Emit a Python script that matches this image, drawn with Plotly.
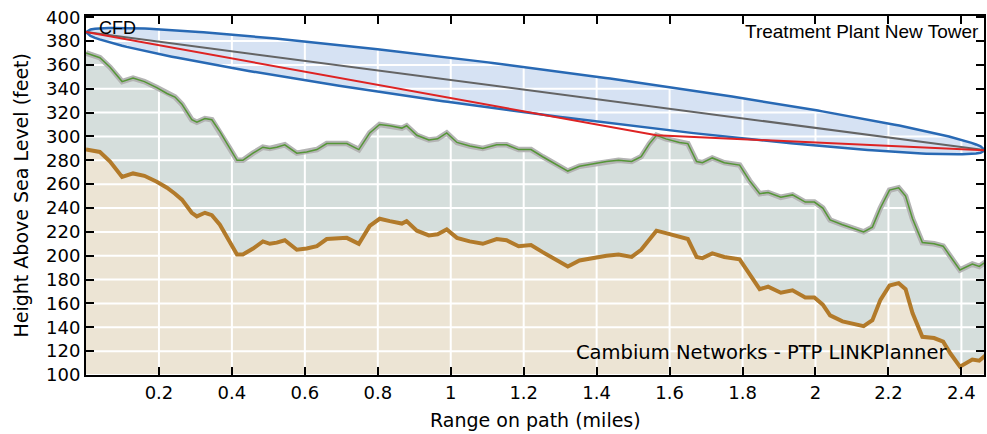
import numpy as np
import plotly.graph_objects as go

# ---- data ----
range_miles = [0.000, 0.038, 0.066, 0.099, 0.129, 0.160, 0.194, 0.222, 0.244, 0.263,
               0.290, 0.304, 0.326, 0.345, 0.367, 0.392, 0.414, 0.430, 0.458, 0.485,
               0.504, 0.523, 0.545, 0.578, 0.605, 0.633, 0.660, 0.715, 0.748, 0.778,
               0.805, 0.833, 0.866, 0.879, 0.907, 0.940, 0.964, 0.989, 1.017, 1.052,
               1.088, 1.126, 1.153, 1.186, 1.220, 1.252, 1.285, 1.321, 1.353, 1.389,
               1.427, 1.460, 1.496, 1.522, 1.545, 1.564, 1.590, 1.627, 1.650, 1.674,
               1.690, 1.717, 1.750, 1.792, 1.819, 1.847, 1.870, 1.905, 1.937, 1.972,
               1.997, 2.020, 2.040, 2.074, 2.132, 2.156, 2.178, 2.203, 2.228, 2.247,
               2.266, 2.293, 2.325, 2.350, 2.370, 2.396, 2.430, 2.449, 2.468]

terrain_ft = [289, 287, 279, 266, 269, 267, 262, 257, 252, 247,
              236, 233, 236, 234, 226, 213, 201, 201, 206, 212,
              210, 211, 213, 205, 206, 208, 214, 215, 210, 225,
              231, 229, 227, 229, 221, 217, 218, 222, 215, 212,
              210, 214, 213, 208, 209, 203, 197, 191, 196, 198,
              200, 201, 199, 205, 214, 221, 219, 216, 214, 199,
              198, 202, 199, 197, 184, 172, 174, 169, 171, 165,
              165, 159, 150, 145, 141, 146, 163, 175, 177, 172,
              152, 132, 131, 128, 118, 107, 113, 112, 117]

clutter_ft = [370, 366, 358, 346, 349, 346, 341, 336, 333, 327,
              314, 312, 315, 314, 304, 291, 280, 280, 286, 291,
              290, 291, 293, 286, 287, 289, 294, 294, 289, 303,
              310, 309, 307, 309, 301, 297, 298, 303, 295, 292,
              290, 293, 293, 289, 289, 283, 277, 271, 275, 277,
              279, 280, 279, 283, 294, 301, 298, 295, 294, 279,
              278, 282, 278, 276, 263, 252, 253, 249, 251, 245,
              245, 240, 230, 226, 220, 224, 240, 255, 257, 250,
              231, 211, 210, 208, 199, 188, 193, 191, 195]

# link end points / obstruction (miles, feet)
site_x = [0.0, 2.465]
site_y = [387.5, 288.5]
ray_x = [0.0, 1.564, 2.465]
ray_y = [387.5, 301.0, 288.5]
fresnel_max_ft = 19.0

x_ticks = [0.2, 0.4, 0.6, 0.8, 1.0, 1.2, 1.4, 1.6, 1.8, 2.0, 2.2, 2.4]
x_tick_text = ["0.2", "0.4", "0.6", "0.8", "1", "1.2", "1.4", "1.6", "1.8", "2", "2.2", "2.4"]
y_ticks = list(range(100, 401, 20))

X_RANGE = [0, 2.462]
Y_RANGE = [100, 401]

# ---- Fresnel ellipse geometry from end points ----
t = np.linspace(0, 1, 200)
ex = site_x[0] + t * (site_x[1] - site_x[0])
ey = site_y[0] + t * (site_y[1] - site_y[0])
half = 2 * fresnel_max_ft * np.sqrt(t * (1 - t))
ell_x = np.concatenate([ex, ex[::-1]])
ell_y = np.concatenate([ey + half, (ey - half)[::-1]])

fig = go.Figure()

# fills
fig.add_trace(go.Scatter(x=range_miles, y=terrain_ft, mode="lines", line=dict(width=0),
                         fill="tozeroy", fillcolor="rgb(236,228,212)", hoverinfo="skip"))
fig.add_trace(go.Scatter(x=range_miles, y=clutter_ft, mode="lines", line=dict(width=0),
                         fill="tonexty", fillcolor="rgb(213,222,220)", hoverinfo="skip"))
fig.add_trace(go.Scatter(x=ell_x, y=ell_y, mode="lines", line=dict(width=0),
                         fill="toself", fillcolor="rgb(214,226,243)", hoverinfo="skip"))

# grid lines (drawn over fills)
gx, gy = [], []
for v in x_ticks:
    gx += [v, v, None]
    gy += [Y_RANGE[0], Y_RANGE[1], None]
for v in y_ticks:
    gx += [X_RANGE[0], X_RANGE[1], None]
    gy += [v, v, None]
fig.add_trace(go.Scatter(x=gx, y=gy, mode="lines", line=dict(color="white", width=2),
                         hoverinfo="skip"))

# terrain lines
fig.add_trace(go.Scatter(x=range_miles, y=clutter_ft, mode="lines",
                         line=dict(color="rgb(180,180,180)", width=5.5), hoverinfo="skip"))
fig.add_trace(go.Scatter(x=range_miles, y=clutter_ft, mode="lines",
                         line=dict(color="rgb(85,150,55)", width=1.5), hoverinfo="skip"))
fig.add_trace(go.Scatter(x=range_miles, y=terrain_ft, mode="lines",
                         line=dict(color="rgb(178,122,42)", width=4), hoverinfo="skip"))

# fresnel outline, line of sight, ray
fig.add_trace(go.Scatter(x=ell_x, y=ell_y, mode="lines",
                         line=dict(color="rgb(40,105,180)", width=2.5), hoverinfo="skip"))
fig.add_trace(go.Scatter(x=site_x, y=site_y, mode="lines",
                         line=dict(color="rgb(100,100,100)", width=2), hoverinfo="skip"))
fig.add_trace(go.Scatter(x=ray_x, y=ray_y, mode="lines",
                         line=dict(color="rgb(222,35,35)", width=2), hoverinfo="skip"))

tickfont = dict(family="DejaVu Sans", size=18, color="black")
fig.update_xaxes(range=X_RANGE, tickvals=x_ticks, ticktext=x_tick_text, showgrid=False,
                 zeroline=False, showline=True, linecolor="black", linewidth=2, mirror="ticks",
                 ticks="inside", ticklen=8, tickwidth=2, tickcolor="black", tickfont=tickfont)
fig.update_yaxes(range=Y_RANGE, tickvals=y_ticks, showgrid=False, zeroline=False,
                 showline=True, linecolor="black", linewidth=2, mirror="ticks",
                 ticks="inside", ticklen=8, tickwidth=2, tickcolor="black", tickfont=tickfont)

titlefont = dict(family="DejaVu Sans", size=19, color="black")
fig.update_layout(
    width=987, height=434,
    margin=dict(l=86, r=1, t=16, b=59),
    paper_bgcolor="white", plot_bgcolor="white",
    showlegend=False,
    annotations=[
        dict(text="Height Above Sea Level (feet)", xref="paper", yref="paper", x=0, y=0.5,
             xshift=-66, textangle=-90, showarrow=False, font=titlefont,
             xanchor="center", yanchor="middle"),
        dict(text="Range on path (miles)", xref="paper", yref="paper", x=0.501, y=0,
             yshift=-45, showarrow=False, font=titlefont, xanchor="center", yanchor="middle"),
        dict(text="CFD", xref="paper", yref="y", x=0, y=391, xshift=11, showarrow=False,
             font=dict(family="Liberation Sans", size=18, color="black"),
             xanchor="left", yanchor="middle"),
        dict(text="Treatment Plant New Tower", xref="paper", yref="y", x=1, y=388,
             xshift=-3, showarrow=False,
             font=dict(family="Liberation Sans", size=19, color="black"),
             xanchor="right", yanchor="middle"),
        dict(text="Cambium Networks - PTP LINKPlanner", xref="x", yref="y", x=1.852, y=119,
             showarrow=False, font=dict(family="DejaVu Sans", size=19.5, color="black"),
             xanchor="center", yanchor="middle"),
    ],
)

fig.write_html("out.html", config={"displayModeBar": False},
               post_script="document.body.style.margin='0px';")
